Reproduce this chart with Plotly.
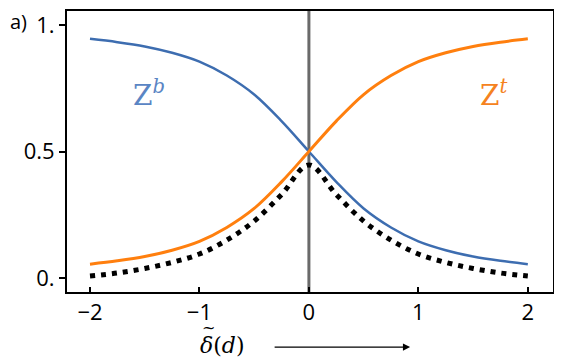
"""Z^b / Z^t crossover plot, panel a)."""

import plotly.graph_objects as go

# sampled positions along delta~(d)
delta = [-2.0, -1.75, -1.5, -1.25, -1.0, -0.75, -0.5, -0.25, 0.0,
         0.25, 0.5, 0.75, 1.0, 1.25, 1.5, 1.75, 2.0]

# Z^t (orange)
z_top = [0.055, 0.068, 0.085, 0.11, 0.145, 0.2, 0.275, 0.38, 0.5,
         0.62, 0.725, 0.8, 0.855, 0.89, 0.915, 0.932, 0.945]

# Z^b (blue)
z_bot = [0.945, 0.932, 0.915, 0.89, 0.855, 0.8, 0.725, 0.62, 0.5,
         0.38, 0.275, 0.2, 0.145, 0.11, 0.085, 0.068, 0.055]

# dotted black curve
z_dot = [0.008, 0.02, 0.038, 0.062, 0.095, 0.15, 0.225, 0.33, 0.447,
         0.33, 0.225, 0.15, 0.095, 0.062, 0.038, 0.02, 0.008]

x_ticks = [-2, -1, 0, 1, 2]
y_ticks = [0, 0.5, 1]
y_ticktext = ["0.", "0.5", "1."]
vline_x = 0

BLUE = "#3d6db0"
ORANGE = "#ff7f0e"

fig = go.Figure()
fig.add_vline(x=vline_x, line=dict(color="#6a6a6a", width=3), layer="below")
fig.add_trace(go.Scatter(
    x=delta, y=z_dot, mode="lines", line_shape="spline",
    line=dict(color="black", width=5, dash="5px,6px"),
))
fig.add_trace(go.Scatter(
    x=delta, y=z_bot, mode="lines", line_shape="spline",
    line=dict(color=BLUE, width=2.5),
))
fig.add_trace(go.Scatter(
    x=delta, y=z_top, mode="lines", line_shape="spline",
    line=dict(color=ORANGE, width=3),
))

label_font = dict(family="DejaVu Serif", size=28)
fig.add_annotation(x=-1.46, y=0.73, text="Z<sup><i>b</i></sup>", showarrow=False,
                   font=dict(label_font, color="#5a85c4"))
fig.add_annotation(x=1.69, y=0.73, text="Z<sup><i>t</i></sup>", showarrow=False,
                   font=dict(label_font, color="#f58220"))

# panel tag
fig.add_annotation(xref="paper", yref="paper", x=-0.121, y=0.962,
                   xanchor="left", yanchor="middle",
                   text="a)", showarrow=False,
                   font=dict(family="Open Sans", size=20, color="black"))

# axis label (tilde drawn separately over the delta) and arrow
fig.add_annotation(xref="paper", yref="paper", x=0.319, y=-0.19,
                   xanchor="center", yanchor="middle",
                   text="<i>δ</i>(<i>d</i>)", showarrow=False,
                   font=dict(family="DejaVu Serif", size=22, color="black"))
fig.add_annotation(xref="paper", yref="paper", x=0.292, y=-0.128,
                   xanchor="center", yanchor="middle",
                   text="~", showarrow=False,
                   font=dict(family="DejaVu Serif", size=16, color="black"))
fig.add_annotation(xref="paper", yref="paper", x=0.706, y=-0.196,
                   ax=-137, ay=0, axref="pixel", ayref="pixel",
                   text="", showarrow=True, arrowhead=2, arrowsize=1.1,
                   arrowwidth=1.3, arrowcolor="black")

# page body adds an 8px margin, so the figure is 8px smaller on each axis
fig.update_layout(
    width=554, height=352,
    margin=dict(l=59, r=9, t=3, b=68, autoexpand=False),
    paper_bgcolor="white", plot_bgcolor="white",
    showlegend=False,
    font=dict(family="Open Sans", size=22, color="black"),
    xaxis=dict(
        range=[-2.21, 2.23], tickvals=x_ticks, ticks="inside", ticklen=5,
        tickwidth=1.5, tickcolor="black", showgrid=False, zeroline=False,
        showline=True, linecolor="black", linewidth=2, mirror=True,
        automargin=False,
    ),
    yaxis=dict(
        range=[-0.055, 1.055], tickvals=y_ticks, ticktext=y_ticktext,
        ticks="outside", ticklen=6, tickwidth=1.5, tickcolor="black",
        showgrid=False, zeroline=False,
        showline=True, linecolor="black", linewidth=2, mirror=True,
        automargin=False,
    ),
)

fig.write_html("out.html")
